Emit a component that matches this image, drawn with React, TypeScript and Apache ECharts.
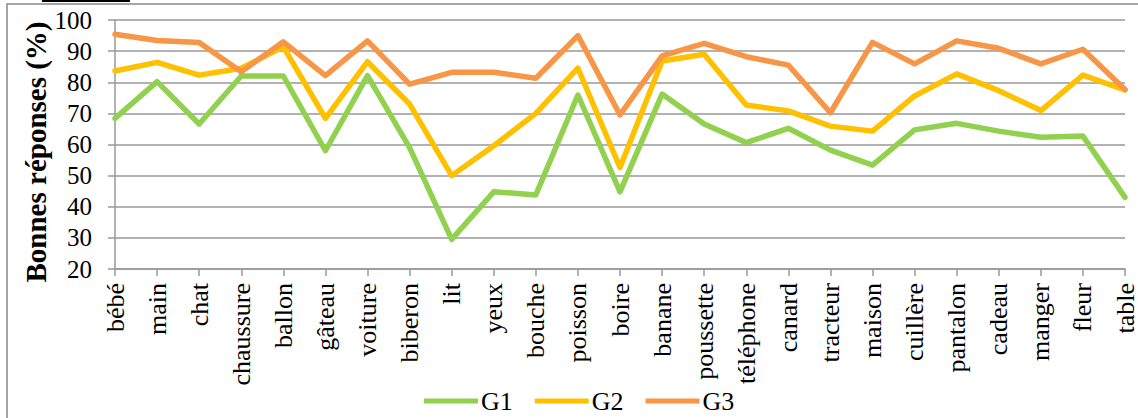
import React, { useEffect, useRef } from "react";
import * as echarts from "echarts";

const categories = [
  "bébé", "main", "chat", "chaussure", "ballon", "gâteau", "voiture", "biberon",
  "lit", "yeux", "bouche", "poisson", "boire", "banane", "poussette", "téléphone",
  "canard", "tracteur", "maison", "cuillère", "pantalon", "cadeau", "manger", "fleur", "table",
];

const g1 = [68.4, 80.2, 66.6, 82.0, 82.0, 58.0, 82.1, 59.0, 29.5, 44.8, 43.8, 75.9, 44.8,
  76.2, 66.6, 60.6, 65.2, 58.2, 53.4, 64.7, 66.8, 64.3, 62.3, 62.7, 43.0];
const g2 = [83.6, 86.4, 82.3, 84.5, 91.4, 68.4, 86.6, 73.0, 50.0, 59.6, 70.0, 84.5, 52.6,
  86.8, 89.0, 72.7, 70.8, 65.9, 64.3, 75.6, 82.7, 77.3, 70.9, 82.3, 77.5];
const g3 = [95.4, 93.4, 92.8, 83.4, 93.0, 82.1, 93.3, 79.4, 83.2, 83.2, 81.3, 95.0, 69.5,
  88.5, 92.5, 88.2, 85.5, 70.2, 92.8, 85.9, 93.3, 90.9, 85.9, 90.6, 77.7];

const seriesNames = ["G1", "G2", "G3"];
const seriesColors = ["#92D050", "#FFC000", "#F79646"];
const yTitle = "Bonnes réponses (%)";

const FONT = "Liberation Serif";

export default function App() {
  const ref = useRef<HTMLDivElement>(null);

  useEffect(() => {
    document.body.style.margin = "0";
    const chart = echarts.init(ref.current!, null, { renderer: "svg" });
    const data = [g1, g2, g3];
    chart.setOption({
      animation: false,
      backgroundColor: "#ffffff",
      textStyle: { fontFamily: FONT },
      grid: { left: 115, right: 12, top: 20, bottom: 149 },
      legend: {
        left: 419,
        top: 383,
        icon: "rect",
        itemWidth: 54,
        itemHeight: 5,
        itemGap: 22,
        textStyle: { fontFamily: FONT, fontSize: 26, color: "#000", padding: [0, 0, 0, -2] },
        data: seriesNames,
      },
      xAxis: {
        type: "category",
        data: categories,
        boundaryGap: false,
        axisLine: { show: true, lineStyle: { color: "#999", width: 1.5 } },
        axisTick: { show: true, length: 7, interval: 0, lineStyle: { color: "#999", width: 1.5 } },
        axisLabel: {
          interval: 0,
          rotate: 90,
          margin: 14,
          fontFamily: FONT,
          fontSize: 26,
          color: "#000",
        },
        splitLine: { show: false },
      },
      yAxis: {
        type: "value",
        min: 20,
        max: 100,
        interval: 10,
        axisLine: { show: true, lineStyle: { color: "#999", width: 1.5 } },
        axisTick: { show: true, length: 7, lineStyle: { color: "#999", width: 1.5 } },
        axisLabel: { margin: 23, fontFamily: FONT, fontSize: 25, color: "#000" },
        splitLine: { show: true, lineStyle: { color: "#999", width: 1.5 } },
      },
      series: seriesNames.map((name, i) => ({
        name,
        type: "line",
        data: data[i],
        symbol: "none",
        showSymbol: false,
        color: seriesColors[i],
        lineStyle: { color: seriesColors[i], width: 5.5, cap: "round", join: "round" },
      })),
      graphic: [
        {
          type: "rect",
          shape: { x: 7, y: 4, width: 1300, height: 600 },
          style: { fill: "none", stroke: "#888", lineWidth: 1.5 },
          silent: true,
        },
        {
          type: "line",
          shape: { x1: 42, y1: 1, x2: 130, y2: 1 },
          style: { stroke: "#000", lineWidth: 2 },
          silent: true,
        },
        {
          type: "text",
          x: 36,
          y: 152,
          rotation: Math.PI / 2,
          style: {
            text: yTitle,
            fontFamily: FONT,
            fontSize: 29,
            fontWeight: "bold",
            fill: "#000",
            align: "center",
            verticalAlign: "middle",
          },
        },
      ],
    });
    return () => chart.dispose();
  }, []);

  return <div ref={ref} style={{ width: 1138, height: 418 }} />;
}
